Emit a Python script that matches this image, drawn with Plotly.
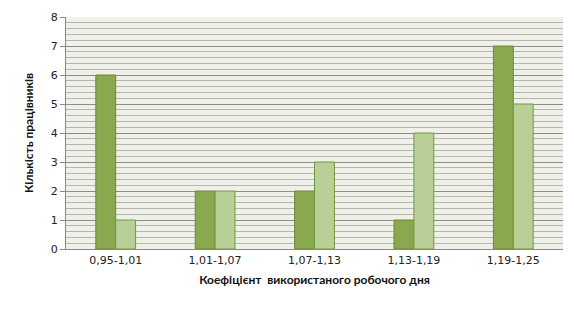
import plotly.graph_objects as go

categories = ["0,95-1,01", "1,01-1,07", "1,07-1,13", "1,13-1,19", "1,19-1,25"]
series_a = [6, 2, 2, 1, 7]
series_b = [1, 2, 3, 4, 5]

fig = go.Figure()
fig.add_trace(go.Bar(x=categories, y=series_a, marker=dict(color="#8aa84e", line=dict(color="#6b8a32", width=1))))
fig.add_trace(go.Bar(x=categories, y=series_b, marker=dict(color="#b9cf98", line=dict(color="#6f9a3a", width=1))))

fig.update_layout(
    width=574, height=309,
    margin=dict(l=66, r=11, t=13, b=60),
    barmode="group", bargap=0.6, bargroupgap=0,
    showlegend=False,
    paper_bgcolor="white", plot_bgcolor="#eff1e9",
    font=dict(family="DejaVu Sans", size=11, color="#222"),
    xaxis=dict(
        title=dict(text="Коефіцієнт  використаного робочого дня",
                   font=dict(family="Lato", size=12, color="#111", weight="bold"), standoff=9),
        showgrid=False, showline=True, linecolor="#888", linewidth=1,
        tickfont=dict(family="DejaVu Sans", size=11, color="#222"),
        ticks="", ticklabelstandoff=1,
    ),
    yaxis=dict(
        title=dict(text="Кількість працівників",
                   font=dict(family="Lato", size=12, color="#111", weight="bold"), standoff=14),
        range=[0, 8], dtick=1, showgrid=True, gridcolor="#8c8c8c", gridwidth=1,
        minor=dict(dtick=0.2, showgrid=True, gridcolor="#b4b4b4", gridwidth=1),
        showline=True, linecolor="#888", linewidth=1,
        ticks="outside", ticklen=5, tickcolor="#888",
        tickfont=dict(family="DejaVu Sans", size=11, color="#222"),
        zeroline=False,
    ),
)
fig.write_html("out.html")
